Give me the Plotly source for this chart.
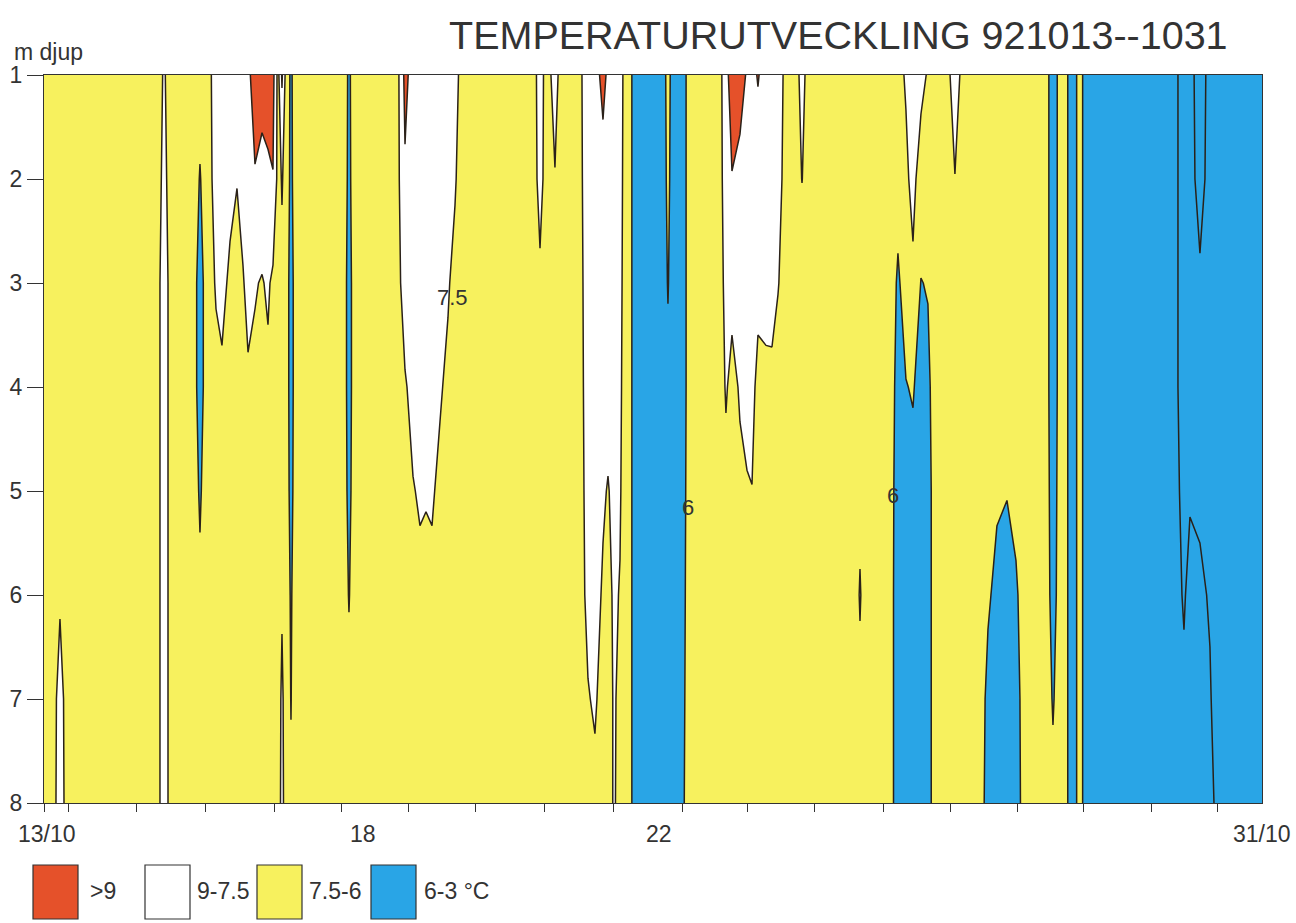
import plotly.graph_objects as go

# ---------------- data ----------------
# measurement times (day of October 1992, decimal)
days = [
    13.000, 13.118, 13.236, 13.355, 13.975, 14.655, 14.773, 14.892, 15.187, 15.305,
    15.424, 15.542, 15.630, 15.749, 15.852, 15.941, 16.015, 16.118, 16.222, 16.310,
    16.384, 16.458, 16.517, 16.576, 16.650, 16.724, 17.419, 17.507, 17.596, 18.231,
    18.335, 18.453, 18.556, 18.645, 18.734, 18.852, 18.970, 19.074, 19.177, 19.739,
    20.212, 20.330, 20.433, 20.551, 20.655, 20.921, 21.039, 21.142, 21.261, 21.335,
    21.423, 21.512, 21.615, 21.778, 22.133, 22.221, 22.310, 22.428, 22.576, 22.990,
    23.078, 23.167, 23.285, 23.389, 23.463, 23.551, 23.670, 23.758, 23.847, 23.965,
    24.098, 24.202, 24.305, 24.985, 25.059, 25.133, 25.472, 25.620, 25.738, 25.842,
    25.960, 26.063, 26.182, 26.300, 26.462, 26.625, 26.802, 26.950, 27.083, 27.231,
    27.364, 27.541, 27.748, 27.911, 28.058, 28.192, 28.310, 28.428, 29.049, 29.669,
    29.847, 29.935, 30.083, 30.231, 30.320, 30.526, 31.000,
]

depths = [1, 2, 3, 4, 5, 6, 7, 8]  # m

# temperature (deg C) at each depth, one value per time above
temp_1m = [
    7.0, 7.0, 7.0, 7.0, 7.0, 7.0, 7.6, 7.0, 7.0, 6.6,
    7.0, 8.2, 8.4, 8.6, 8.8, 8.8, 8.7, 9.6, 9.5, 9.5,
    9.5, 7.0, 9.2, 7.0, 5.7, 7.0, 7.0, 5.7, 7.0, 7.2,
    9.4, 8.4, 8.5, 8.5, 8.4, 8.3, 8.2, 8.0, 7.0, 7.0,
    7.0, 7.9, 7.1, 7.9, 7.0, 7.2, 8.4, 8.6, 9.3, 8.8,
    8.3, 8.0, 6.8, 5.0, 5.0, 6.6, 5.0, 5.3, 7.0, 7.0,
    8.6, 9.6, 9.4, 8.9, 8.6, 9.1, 8.4, 8.3, 8.2, 7.1,
    7.1, 7.8, 7.1, 7.0, 7.0, 7.0, 7.0, 7.2, 7.6, 8.0,
    7.8, 7.4, 7.0, 7.0, 7.9, 7.0, 7.0, 7.0, 7.0, 7.0,
    7.0, 7.0, 7.0, 5.4, 6.8, 5.3, 6.5, 5.0, 5.0, 5.0,
    4.0, 4.0, 5.2, 4.0, 4.0, 4.0, 4.0,
]
temp_2m = [
    7.0, 7.0, 7.0, 7.0, 7.0, 7.0, 7.75, 7.0, 7.0, 5.9,
    7.0, 8.0, 8.2, 7.8, 7.55, 8.0, 8.3, 8.9, 8.6, 8.8,
    8.95, 7.0, 7.6, 7.0, 5.6, 7.0, 7.0, 5.6, 7.0, 7.2,
    8.8, 8.2, 8.3, 8.3, 8.2, 8.1, 8.0, 7.6, 7.0, 7.0,
    7.0, 7.8, 7.1, 7.45, 7.0, 7.2, 8.2, 8.4, 8.6, 8.4,
    8.1, 7.9, 6.8, 5.0, 5.0, 6.4, 5.0, 5.3, 7.0, 7.0,
    8.3, 8.95, 8.7, 8.4, 8.3, 8.2, 8.0, 8.0, 7.9, 7.1,
    7.1, 7.52, 7.1, 7.0, 7.0, 7.0, 7.0, 6.5, 7.3, 7.8,
    7.0, 6.9, 7.0, 7.0, 7.48, 7.0, 7.0, 7.0, 7.0, 7.0,
    7.0, 7.0, 7.0, 5.4, 6.8, 5.3, 6.5, 5.0, 5.0, 5.0,
    4.0, 4.0, 5.0, 4.0, 4.0, 4.0, 4.0,
]
temp_3m = [
    7.0, 7.0, 7.0, 7.0, 7.0, 7.0, 8.0, 7.0, 7.0, 5.3,
    7.0, 7.6, 7.8, 7.3, 7.0, 7.4, 7.9, 7.6, 7.4, 7.7,
    7.2, 7.0, 7.2, 7.0, 5.2, 7.0, 7.0, 5.3, 7.0, 7.2,
    8.0, 8.0, 8.1, 8.1, 8.0, 7.9, 7.6, 7.2, 7.0, 7.0,
    7.0, 7.35, 7.1, 7.0, 7.0, 7.2, 8.0, 8.2, 8.1, 8.1,
    7.9, 7.8, 6.8, 5.0, 5.0, 6.1, 5.0, 5.3, 7.0, 7.0,
    7.9, 7.8, 8.0, 8.0, 8.0, 7.8, 7.8, 7.9, 7.55, 7.1,
    7.1, 7.0, 7.1, 7.0, 7.0, 7.0, 7.0, 5.8, 6.6, 7.3,
    5.95, 6.1, 7.0, 7.0, 7.0, 7.0, 7.0, 7.0, 7.0, 7.0,
    7.0, 7.0, 7.0, 5.4, 6.8, 5.3, 6.5, 5.0, 5.0, 5.0,
    4.0, 4.0, 4.3, 4.0, 4.0, 4.0, 4.0,
]
temp_4m = [
    7.0, 7.0, 7.1, 7.0, 7.0, 7.0, 8.0, 7.0, 7.0, 5.3,
    7.0, 7.2, 7.3, 7.0, 7.0, 7.0, 7.3, 7.2, 7.0, 7.2,
    7.0, 7.0, 7.0, 7.0, 5.2, 7.0, 7.0, 5.3, 7.0, 7.2,
    7.4, 7.8, 7.9, 7.9, 7.8, 7.6, 7.3, 7.0, 7.0, 7.0,
    7.0, 7.0, 7.1, 7.0, 7.0, 7.2, 7.9, 8.0, 7.8, 7.8,
    7.8, 7.7, 6.8, 5.0, 5.0, 5.6, 5.0, 5.3, 7.0, 7.0,
    7.6, 7.2, 7.6, 7.7, 7.8, 7.2, 7.3, 7.25, 7.1, 7.1,
    7.1, 7.0, 7.1, 7.0, 7.0, 7.0, 7.0, 5.5, 5.95, 6.1,
    5.5, 5.6, 7.0, 7.0, 7.0, 7.0, 7.0, 7.0, 6.9, 6.7,
    6.9, 7.0, 7.0, 5.4, 6.8, 5.3, 6.5, 5.0, 5.0, 5.0,
    4.0, 4.1, 4.0, 4.0, 4.0, 4.0, 4.0,
]
temp_5m = [
    7.0, 7.0, 7.2, 7.0, 7.0, 7.0, 8.0, 7.0, 7.0, 5.8,
    7.0, 7.0, 7.0, 7.0, 7.0, 7.0, 7.0, 7.0, 7.0, 7.0,
    7.0, 7.0, 7.0, 7.0, 5.4, 7.0, 7.0, 5.5, 7.0, 7.2,
    7.2, 7.45, 7.6, 7.55, 7.6, 7.3, 7.0, 7.0, 7.0, 7.0,
    7.0, 7.0, 7.1, 7.0, 7.0, 7.2, 7.8, 7.9, 7.6, 7.45,
    7.7, 7.6, 6.8, 5.0, 5.0, 5.0, 5.0, 5.4, 7.0, 7.0,
    7.2, 7.0, 7.3, 7.45, 7.48, 7.0, 7.0, 7.0, 7.0, 7.1,
    7.1, 7.0, 7.1, 7.0, 7.2, 7.0, 7.0, 5.3, 5.5, 5.6,
    5.3, 5.3, 7.0, 7.0, 7.0, 7.0, 7.0, 6.8, 6.2, 6.05,
    6.4, 7.0, 7.0, 5.5, 6.8, 5.3, 6.5, 5.0, 5.0, 5.0,
    4.2, 4.4, 4.3, 4.2, 4.0, 4.0, 4.0,
]
temp_6m = [
    7.0, 7.0, 7.38, 7.0, 7.0, 7.0, 8.0, 7.0, 7.0, 6.3,
    7.0, 7.0, 7.0, 7.0, 7.0, 7.0, 7.0, 7.0, 7.0, 7.0,
    7.0, 7.0, 7.38, 7.0, 5.8, 7.0, 7.0, 5.9, 7.0, 7.2,
    7.0, 7.2, 7.3, 7.3, 7.3, 7.0, 7.0, 7.0, 7.0, 7.0,
    7.0, 7.0, 7.1, 7.0, 7.0, 7.2, 7.7, 7.8, 7.4, 7.2,
    7.65, 7.45, 6.8, 5.0, 5.0, 5.0, 5.0, 5.5, 7.0, 7.0,
    7.0, 7.0, 7.0, 7.0, 7.2, 7.0, 7.0, 7.0, 7.0, 7.1,
    7.1, 7.0, 7.1, 7.0, 7.6, 7.0, 7.0, 5.2, 5.3, 5.4,
    5.3, 5.3, 7.0, 7.0, 7.0, 7.0, 7.0, 6.2, 5.6, 5.5,
    5.8, 7.0, 7.0, 5.6, 6.8, 5.3, 6.5, 5.0, 5.0, 5.0,
    4.4, 4.8, 4.7, 4.4, 4.0, 4.0, 4.0,
]
temp_7m = [
    7.0, 7.0, 7.9, 7.0, 7.0, 7.0, 8.0, 7.0, 7.0, 6.8,
    7.0, 7.0, 7.0, 7.0, 7.0, 7.0, 7.0, 7.0, 7.0, 7.0,
    7.0, 7.0, 7.7, 7.0, 5.95, 7.0, 7.0, 6.5, 7.0, 7.2,
    7.0, 7.0, 7.0, 7.0, 7.0, 7.0, 7.0, 7.0, 7.0, 7.0,
    7.0, 7.0, 7.1, 7.0, 7.0, 7.2, 7.45, 7.6, 7.2, 7.1,
    7.6, 7.3, 6.8, 5.0, 5.0, 5.0, 5.0, 5.6, 7.0, 7.0,
    7.0, 7.0, 7.0, 7.0, 7.0, 7.0, 7.0, 7.0, 7.0, 7.1,
    7.1, 7.0, 7.1, 7.0, 7.2, 7.0, 7.0, 5.2, 5.3, 5.3,
    5.3, 5.3, 7.0, 7.0, 7.0, 7.0, 7.0, 5.6, 5.3, 5.2,
    5.5, 7.0, 7.0, 5.9, 6.8, 5.3, 6.5, 5.0, 5.0, 5.0,
    4.7, 5.0, 5.0, 4.6, 4.1, 4.0, 4.0,
]
temp_8m = [
    7.0, 7.0, 8.0, 7.0, 7.0, 7.0, 8.0, 7.0, 7.0, 7.0,
    7.0, 7.0, 7.0, 7.0, 7.0, 7.0, 7.0, 7.0, 7.0, 7.0,
    7.0, 7.0, 7.8, 7.0, 6.2, 7.0, 7.0, 7.0, 7.0, 7.2,
    7.0, 7.0, 7.0, 7.0, 7.0, 7.0, 7.0, 7.0, 7.0, 7.0,
    7.0, 7.0, 7.1, 7.0, 7.0, 7.2, 7.2, 7.3, 7.1, 7.1,
    7.6, 7.2, 6.8, 5.0, 5.0, 5.0, 5.0, 5.7, 7.0, 7.0,
    7.0, 7.0, 7.0, 7.0, 7.0, 7.0, 7.0, 7.0, 7.0, 7.1,
    7.1, 7.0, 7.1, 7.0, 7.0, 7.0, 7.0, 5.2, 5.3, 5.3,
    5.3, 5.3, 7.0, 7.0, 7.0, 7.0, 7.0, 5.4, 5.2, 5.2,
    5.4, 7.0, 7.0, 6.3, 6.8, 5.3, 6.5, 5.0, 5.0, 5.0,
    4.9, 5.0, 5.0, 4.9, 4.3, 4.0, 4.0,
]

# axis ticks and labels
tick_days = [13.0, 13.36, 14.37, 15.38, 16.41, 17.40, 18.38, 19.38, 20.40, 21.42,
             22.43, 23.40, 24.39, 25.40, 26.39, 27.39, 28.36, 29.37, 30.34]
date_label_days = [13.04, 17.71, 22.09, 31.0]
date_label_text = ["13/10", "18", "22", "31/10"]
depth_ticks = [1, 2, 3, 4, 5, 6, 7, 8]

# contour labels: (day, depth, text)
contour_label_day = [19.03, 22.52, 25.55]
contour_label_depth = [3.14, 5.16, 5.04]
contour_label_text = ["7.5", "6", "6"]

# classes (legend)
class_labels = [">9", "9-7.5", "7.5-6", "6-3 °C"]
levels = dict(start=4.5, end=9.0, size=1.5)

# ---------------- style ----------------
RED = "#e5512a"
WHITE = "#ffffff"
YELLOW = "#f7f15e"
BLUE = "#29a5e6"
INK = "#333333"
LINE = "#2a2119"
FONT = "Liberation Sans, Arial, sans-serif"

W, H = 1296, 923
L, R, T, B = 44, 1262, 75, 803  # plot area in pixels


def px(x):
    return (x - L) / (R - L)


def py(y):
    return (B - y) / (B - T)


z = [temp_1m, temp_2m, temp_3m, temp_4m, temp_5m, temp_6m, temp_7m, temp_8m]

colorscale = [
    [0.0, BLUE], [0.375, BLUE],
    [0.375, YELLOW], [0.625, YELLOW],
    [0.625, WHITE], [0.875, WHITE],
    [0.875, RED], [1.0, RED],
]

fig = go.Figure()
fig.add_trace(go.Contour(
    x=days, y=depths, z=z,
    autocontour=False,
    contours=dict(start=levels["start"], end=levels["end"], size=levels["size"],
                  coloring="fill", showlines=True),
    colorscale=colorscale,
    line=dict(color=LINE, width=1.5, smoothing=0),
    showscale=False,
    hoverinfo="skip",
))

annotations = []
# title
annotations.append(dict(x=px(838), y=py(35), xref="paper", yref="paper",
                        text="TEMPERATURUTVECKLING 921013--1031", showarrow=False,
                        xanchor="center", yanchor="middle",
                        font=dict(family=FONT, size=39.5, color=INK)))
# y-axis title
annotations.append(dict(x=px(12), y=py(52), xref="paper", yref="paper",
                        text="m djup", showarrow=False, xanchor="left", yanchor="middle",
                        font=dict(family=FONT, size=23, color=INK)))
# date labels
for d, t in zip(date_label_days, date_label_text):
    annotations.append(dict(x=d, y=py(834), xref="x", yref="paper", text=t,
                            showarrow=False, xanchor="center", yanchor="middle",
                            font=dict(family=FONT, size=23, color=INK)))
# contour labels
for d, dep, t in zip(contour_label_day, contour_label_depth, contour_label_text):
    annotations.append(dict(x=d, y=dep, xref="x", yref="y", text=t, showarrow=False,
                            xanchor="center", yanchor="middle",
                            font=dict(family=FONT, size=22, color=INK)))

# legend boxes + labels
shapes = []
box_left = [33, 145, 257, 371]
label_left = [88, 195, 307, 422]
box_colors = [RED, WHITE, YELLOW, BLUE]
for bx, lx, col, lab in zip(box_left, label_left, box_colors, class_labels):
    shapes.append(dict(type="rect", xref="paper", yref="paper",
                       x0=px(bx), x1=px(bx + 45), y0=py(919), y1=py(865),
                       fillcolor=col, line=dict(color=INK, width=1.2)))
    annotations.append(dict(x=px(lx), y=py(891), xref="paper", yref="paper", text=lab,
                            showarrow=False, xanchor="left", yanchor="middle",
                            font=dict(family=FONT, size=23, color=INK)))

fig.update_layout(
    width=W, height=H, autosize=False,
    margin=dict(l=L, r=W - R, t=T, b=H - B, pad=0),
    paper_bgcolor="white", plot_bgcolor="white",
    showlegend=False,
    annotations=annotations, shapes=shapes,
    xaxis=dict(range=[13, 31], tickvals=tick_days, ticks="outside", ticklen=8,
               tickwidth=1.2, tickcolor=INK, showticklabels=False, automargin=False,
               showline=True, linecolor=INK, linewidth=1.2, mirror=True,
               showgrid=False, zeroline=False),
    yaxis=dict(range=[8, 1], tickvals=depth_ticks, ticks="outside", ticklen=16,
               tickwidth=1.2, tickcolor=INK, automargin=False,
               tickfont=dict(family=FONT, size=23, color=INK),
               showline=True, linecolor=INK, linewidth=1.2, mirror=True,
               showgrid=False, zeroline=False),
)

fig.write_html("out.html", config={"displayModeBar": False},
               post_script="document.body.style.margin='0';")
